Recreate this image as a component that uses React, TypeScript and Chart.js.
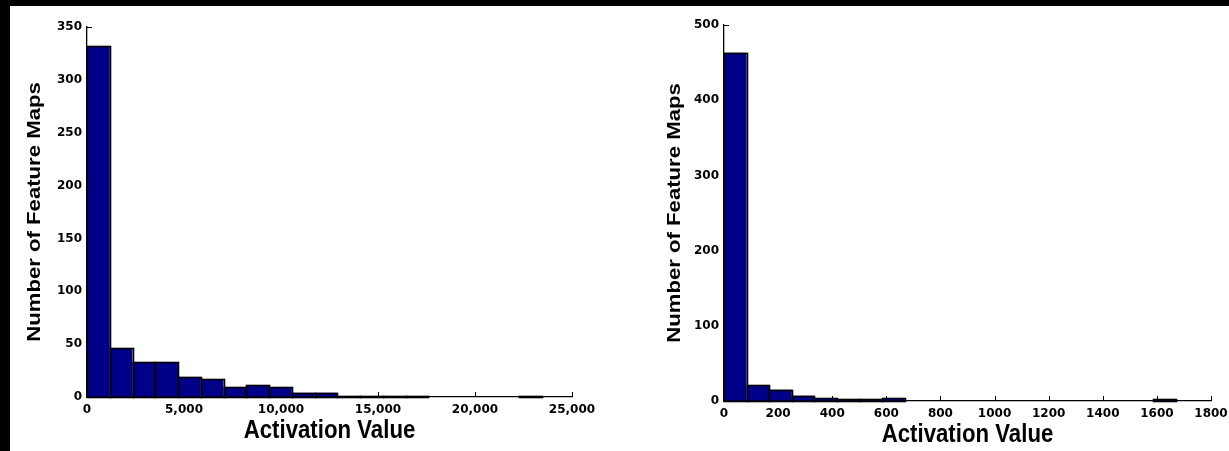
import React, { useEffect, useRef } from 'react';
import { Chart, registerables } from 'chart.js';

Chart.register(...registerables);

// ---------- data ----------
const LEFT_COUNTS = [332, 46, 33, 33, 19, 17, 9, 11, 9, 4, 4, 1, 1, 1, 1, 0, 0, 0, 0, 1];
const LEFT_BIN_WIDTH = 1173;
const LEFT_X_MAX = 25000;
const LEFT_X_STEP = 5000;
const LEFT_Y_MAX = 350;
const LEFT_Y_STEP = 50;

const RIGHT_COUNTS = [463, 21, 15, 7, 4, 2, 2, 4, 0, 0, 0, 0, 0, 0, 0, 0, 0, 0, 0, 2];
const RIGHT_BIN_WIDTH = 83.5;
const RIGHT_X_MAX = 1800;
const RIGHT_X_STEP = 200;
const RIGHT_Y_MAX = 500;
const RIGHT_Y_STEP = 100;

const X_TITLE = 'Activation Value';
const Y_TITLE = 'Number of Feature Maps';

const BAR_FILL = '#000088';
const TICK_FONT = { family: '"DejaVu Sans", sans-serif', weight: 'bold' as const, size: 12 };
const Y_AXIS_W = 40;
const X_AXIS_H = 20;

const titlePlugin = {
  id: 'customTitles',
  afterDraw(chart: any, _args: any, opts: any) {
    const { ctx, chartArea: a } = chart;
    ctx.save();
    ctx.fillStyle = '#000';
    ctx.font = 'bold 22px "Liberation Sans", Arial, sans-serif';
    ctx.textAlign = 'center';
    ctx.textBaseline = 'alphabetic';
    ctx.translate((a.left + a.right) / 2, a.bottom + opts.xGap);
    ctx.scale(1.01, 1.14);
    ctx.fillText(X_TITLE, 0, 0);
    ctx.restore();

    ctx.save();
    ctx.fillStyle = '#000';
    ctx.font = 'bold 18px "Liberation Sans", Arial, sans-serif';
    ctx.textAlign = 'center';
    ctx.textBaseline = 'alphabetic';
    ctx.translate(a.left - opts.yGap, (a.top + a.bottom) / 2);
    ctx.rotate(-Math.PI / 2);
    ctx.scale(1.23, 1);
    ctx.fillText(Y_TITLE, 0, 0);
    ctx.restore();
  },
};

const inwardTicksPlugin = {
  id: 'inwardTicks',
  beforeDatasetsDraw(chart: any) {
    const { ctx } = chart;
    const xs = chart.scales.x;
    const ys = chart.scales.y;
    ctx.save();
    ctx.strokeStyle = '#000';
    ctx.lineWidth = 1;
    ctx.beginPath();
    xs.ticks.forEach((t: any) => {
      const px = Math.round(xs.getPixelForValue(t.value)) + 0.5;
      ctx.moveTo(px, ys.bottom);
      ctx.lineTo(px, ys.bottom - 5);
    });
    ys.ticks.forEach((t: any) => {
      const py = Math.round(ys.getPixelForValue(t.value)) + 0.5;
      ctx.moveTo(xs.left, py);
      ctx.lineTo(xs.left + 5, py);
    });
    ctx.stroke();
    ctx.restore();
  },
};

// centred black outline around each bar (like a MATLAB histogram patch edge)
const barOutlinePlugin = {
  id: 'barOutline',
  afterDatasetsDraw(chart: any) {
    const { ctx } = chart;
    const meta = chart.getDatasetMeta(0);
    ctx.save();
    ctx.strokeStyle = '#000';
    ctx.lineWidth = 1.6;
    meta.data.forEach((el: any) => {
      const { x, y, base, width } = el.getProps(['x', 'y', 'base', 'width'], true);
      if (Math.abs(base - y) < 0.05) return;
      const l = Math.round(x - width / 2) + 0.5;
      const r = Math.round(x + width / 2) + 0.5;
      const t = Math.round(y) + 0.5;
      const b = Math.round(base) + 0.5;
      ctx.strokeRect(l, t, r - l, b - t);
    });
    ctx.restore();
  },
};

type HistProps = {
  counts: number[];
  binWidth: number;
  xMax: number;
  xStep: number;
  yMax: number;
  yStep: number;
  formatX: (v: number) => string;
  width: number;
  height: number;
  left: number;
  area: { left: number; top: number; right: number; bottom: number };
  yGap: number;
  xGap: number;
};

function Histogram(p: HistProps) {
  const ref = useRef<HTMLCanvasElement | null>(null);
  useEffect(() => {
    if (!ref.current) return;
    const data = p.counts.map((c, i) => ({ x: (i + 0.5) * p.binWidth, y: c }));
    const chart = new Chart(ref.current, {
      type: 'bar',
      data: {
        datasets: [
          {
            data: data as any,
            backgroundColor: BAR_FILL,
            borderWidth: 0,
            inflateAmount: 0,
            barPercentage: 1,
            categoryPercentage: 1,
          },
        ],
      },
      options: {
        animation: false,
        responsive: false,
        devicePixelRatio: 1,
        layout: {
          padding: {
            left: p.area.left - Y_AXIS_W,
            top: p.area.top,
            right: p.width - p.area.right,
            bottom: p.height - p.area.bottom - X_AXIS_H,
          },
        },
        plugins: {
          legend: { display: false },
          tooltip: { enabled: false },
          customTitles: { xGap: p.xGap, yGap: p.yGap },
        } as any,
        scales: {
          x: {
            type: 'linear',
            min: 0,
            max: p.xMax,
            offset: false,
            ticks: {
              stepSize: p.xStep,
              color: '#000',
              font: TICK_FONT,
              padding: 6,
              maxRotation: 0,
              autoSkip: false,
              callback: (v: any) => p.formatX(Number(v)),
            },
            grid: { display: true, drawOnChartArea: false, drawTicks: false, offset: false },
            border: { display: true, color: '#000', width: 1.3 },
            afterFit: (s: any) => {
              s.height = X_AXIS_H;
              s.paddingLeft = 0;
              s.paddingRight = 0;
            },
          },
          y: {
            type: 'linear',
            min: 0,
            max: p.yMax,
            ticks: {
              stepSize: p.yStep,
              color: '#000',
              font: TICK_FONT,
              padding: 5,
            },
            grid: { display: true, drawOnChartArea: false, drawTicks: false },
            border: { display: true, color: '#000', width: 1.3 },
            afterFit: (s: any) => {
              s.width = Y_AXIS_W;
              s.paddingTop = 0;
              s.paddingBottom = 0;
            },
          },
        },
      } as any,
      plugins: [titlePlugin, inwardTicksPlugin, barOutlinePlugin],
    });
    return () => chart.destroy();
  }, []);
  return (
    <canvas
      ref={ref}
      width={p.width}
      height={p.height}
      style={{ position: 'absolute', left: p.left, top: 0, width: p.width, height: p.height }}
    />
  );
}

export default function App() {
  return (
    <div style={{ position: 'fixed', left: 0, top: 0, width: 1229, height: 451, background: '#000', overflow: 'hidden' }}>
      <div style={{ position: 'absolute', left: 10, top: 6, width: 1219, height: 445, background: '#fff' }}>
        <Histogram
          counts={LEFT_COUNTS}
          binWidth={LEFT_BIN_WIDTH}
          xMax={LEFT_X_MAX}
          xStep={LEFT_X_STEP}
          yMax={LEFT_Y_MAX}
          yStep={LEFT_Y_STEP}
          formatX={(v) => v.toLocaleString('en-US')}
          width={604}
          height={445}
          left={0}
          area={{ left: 77, top: 21, right: 562, bottom: 391 }}
          yGap={47}
          xGap={41}
        />
        <Histogram
          counts={RIGHT_COUNTS}
          binWidth={RIGHT_BIN_WIDTH}
          xMax={RIGHT_X_MAX}
          xStep={RIGHT_X_STEP}
          yMax={RIGHT_Y_MAX}
          yStep={RIGHT_Y_STEP}
          formatX={(v) => String(v)}
          width={615}
          height={445}
          left={604}
          area={{ left: 110, top: 19, right: 597, bottom: 395 }}
          yGap={44}
          xGap={41}
        />
      </div>
    </div>
  );
}
